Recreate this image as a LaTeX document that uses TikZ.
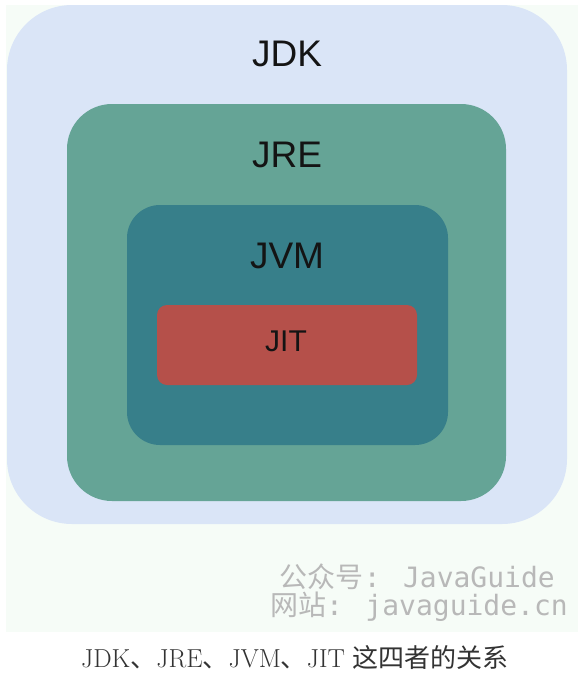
\documentclass[tikz,border=0pt]{standalone}
\usepackage{fontspec}
\setsansfont{Liberation Sans}
\newfontfamily\cjkfont{Noto Sans CJK SC}
\newfontfamily\codefont{DejaVu Sans Mono}
\usetikzlibrary{positioning}

\definecolor{paper}{HTML}{F6FCF7}
\definecolor{jdkblue}{HTML}{DAE5F7}
\definecolor{jregreen}{HTML}{65A496}
\definecolor{jvmteal}{HTML}{377F8A}
\definecolor{jitred}{HTML}{B5504A}
\definecolor{wmgray}{HTML}{B8B8B8}

\begin{document}
\begin{tikzpicture}[x=1pt, y=-1pt,
  box/.style={rectangle, inner sep=0pt},
  lbl/.style={font=\sffamily\fontsize{37}{40}\selectfont, text=black!92},
  wmark/.style={font=\codefont\fontsize{28}{30}\selectfont, text=wmgray, anchor=east, inner sep=0pt}]
  \useasboundingbox (0,0) rectangle (578,678);
  \fill[paper] (6,5) rectangle (578,632);
  % nested boxes
  \node[box, fill=jdkblue, rounded corners=65pt, minimum width=560pt, minimum height=519pt] (jdk) at (287,264.5) {};
  \node[box, fill=jregreen, rounded corners=45pt, minimum width=439pt, minimum height=397pt] (jre) at (286.5,302.5) {};
  \node[box, fill=jvmteal, rounded corners=33pt, minimum width=321pt, minimum height=240pt] (jvm) at (287.5,325) {};
  \node[box, fill=jitred, rounded corners=10pt, minimum width=260pt, minimum height=80pt] (jit) at (287,345) {};
  % labels
  \node[lbl] (jdktext) at (287,54) {JDK};
  \node[lbl] (jretext) at (287,155) {JRE};
  \node[lbl] (jvmtext) at (287,256) {JVM};
  \node[lbl, font=\sffamily\fontsize{30}{32}\selectfont] (jittext) at (286,341.5) {JIT};
  % watermark
  \node[wmark] (wechat) at (555,577) {{\cjkfont 公众号}: JavaGuide};
  \node[wmark] (site) at (568,607) {{\cjkfont 网站}: javaguide.cn};
  % caption
  \node[font=\fontsize{26}{28}\selectfont, text=black!80] (caption) at (295,658)
    {JDK{\cjkfont 、}JRE{\cjkfont 、}JVM{\cjkfont 、}JIT {\cjkfont 这四者的关系}};
\end{tikzpicture}
\end{document}
